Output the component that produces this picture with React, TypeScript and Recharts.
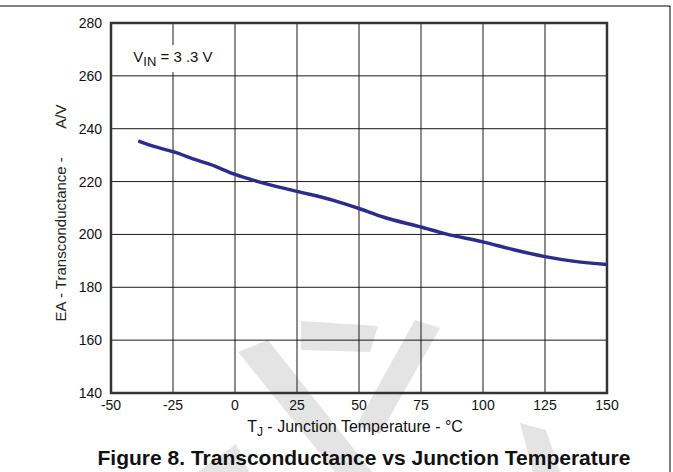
import React from 'react';
import {
  LineChart,
  Line,
  XAxis,
  YAxis,
  CartesianGrid,
  ReferenceArea,
  ReferenceDot,
} from 'recharts';

// T_J (°C) and EA transconductance (A/V)
const junctionTemps = [-39, -35, -25, -15, -10, 0, 10, 25, 40, 50, 60, 75, 85, 100, 112, 125, 137, 150];
const transconductance = [235.4, 234, 231.3, 228, 226.5, 222.7, 219.8, 216.3, 212.8, 209.8, 206.5, 202.8, 200.2, 197.2, 194.3, 191.6, 189.8, 188.6];

const xTicks = [-50, -25, 0, 25, 50, 75, 100, 125, 150];
const yTicks = [140, 160, 180, 200, 220, 240, 260, 280];

const data = junctionTemps.map((t, i) => ({ t, gm: transconductance[i] }));

const FONT = '"Liberation Sans", Arial, Helvetica, sans-serif';
const LINE_BLUE = '#2b2d8e';

const XTitle = (props: any) => {
  const { x, y, width } = props.viewBox;
  const cx = x + width / 2;
  return (
    <g fontFamily={FONT} fill="#111">
      <text x={cx - 4} y={y + 39} textAnchor="middle" fontSize={16}>
        T<tspan fontSize={12} dy={4}>J</tspan>
        <tspan dy={-4}> - Junction Temperature - °C</tspan>
      </text>
      <text x={cx + 5} y={y + 72} textAnchor="middle" fontSize={21} fontWeight="bold">
        Figure 8. Transconductance vs Junction Temperature
      </text>
    </g>
  );
};

const YTitle = (props: any) => {
  const { y, height } = props.viewBox;
  const cy = y + height / 2 + 5;
  return (
    <text
      x={60}
      y={cy}
      transform={`rotate(-90, 60, ${cy})`}
      textAnchor="middle"
      dominantBaseline="central"
      fontFamily={FONT}
      fontSize={15}
      fill="#222"
      style={{ whiteSpace: 'pre' }}
    >
      {'EA - Transconductance -       A/V'}
    </text>
  );
};

const VinNote = (props: any) => {
  const { x, y } = props.viewBox;
  return (
    <g fontFamily={FONT} fill="#111">
      <rect x={x - 3} y={y - 17} width={90} height={27} fill="#fff" />
      <text x={x} y={y} fontSize={15}>
        V<tspan fontSize={13} dy={4}>IN</tspan>
        <tspan dy={-4}> = 3 .3 V</tspan>
      </text>
    </g>
  );
};

const Backdrop = () => (
  <svg width={673} height={472} style={{ position: 'absolute', left: 0, top: 0 }}>
    <g fill="#e4e4e4">
      <polygon points="238,352 268,340 372,472 335,472" />
      <polygon points="301,321 378,326 370,352 301,350" />
      <polygon points="415,320 440,328 380,434 356,426" />
      <polygon points="520,423 546,430 560,472 533,472" />
      <polygon points="198,472 249,472 236,444" />
    </g>
    <line x1={0} y1={6} x2={670} y2={6} stroke="#000" strokeWidth={1} />
    <line x1={670} y1={6} x2={670} y2={472} stroke="#000" strokeWidth={1} />
  </svg>
);

export default function App() {
  return (
    <div style={{ position: 'absolute', left: 0, top: 0, width: 673, height: 472, background: '#fff' }}>
      <Backdrop />
      <div style={{ position: 'absolute', left: 0, top: 0 }}>
        <LineChart width={673} height={472} data={data} margin={{ top: 23, right: 66, bottom: 0, left: 0 }}>
          <CartesianGrid stroke="#1a1a1a" strokeWidth={1} />
          <XAxis
            dataKey="t"
            type="number"
            domain={[-50, 150]}
            ticks={xTicks}
            height={79}
            axisLine={false}
            tickLine={false}
            tickSize={0}
            tickMargin={7}
            tick={{ fill: '#111', fontSize: 14, fontFamily: FONT }}
            interval={0}
            label={{ content: XTitle }}
          />
          <YAxis
            type="number"
            domain={[140, 280]}
            ticks={yTicks}
            width={111}
            axisLine={false}
            tickLine={false}
            tickSize={0}
            tickMargin={9}
            tick={{ fill: '#111', fontSize: 14, fontFamily: FONT }}
            interval={0}
            label={{ content: YTitle }}
          />
          <ReferenceArea
            x1={-50}
            x2={150}
            y1={140}
            y2={280}
            fill="none"
            fillOpacity={0}
            stroke="#333"
            strokeWidth={2.5}
            ifOverflow="visible"
          />
          <ReferenceDot
            x={-41}
            y={265.2}
            r={0}
            fill="none"
            stroke="none"
            ifOverflow="visible"
            label={{ content: VinNote }}
          />
          <Line
            type="monotone"
            dataKey="gm"
            stroke={LINE_BLUE}
            strokeWidth={3.5}
            dot={false}
            activeDot={false}
            isAnimationActive={false}
          />
        </LineChart>
      </div>
    </div>
  );
}
